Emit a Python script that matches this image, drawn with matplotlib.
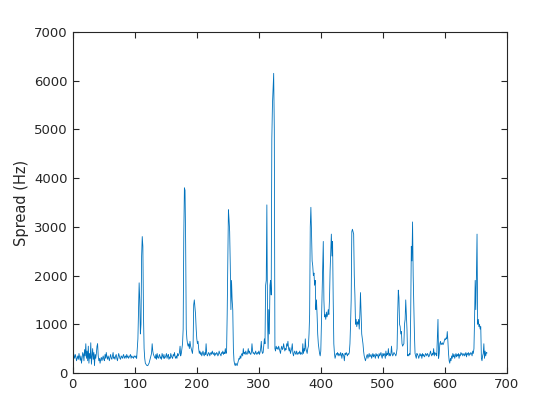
import matplotlib
matplotlib.use("Agg")
import matplotlib.pyplot as plt
import numpy as np

spread_hz = [
    420, 350, 300, 380, 330, 250, 300, 350, 280, 400,
    320, 260, 350, 200, 300, 420, 380, 250, 480, 350,
    600, 300, 450, 250, 550, 200, 400, 300, 620, 180,
    350, 500, 280, 420, 150, 380, 300, 400, 550, 600,
    350, 250, 300, 200, 280, 320, 250, 300, 350, 280,
    250, 380, 300, 420, 330, 280, 350, 300, 250, 330,
    380, 300, 280, 350, 420, 300, 330, 280, 350, 380,
    300, 250, 330, 400, 350, 300, 280, 350, 330, 300,
    350, 380, 300, 330, 350, 300, 380, 320, 350, 300,
    330, 350, 380, 300, 350, 320, 330, 300, 350, 340,
    320, 350, 300, 500, 700, 1300, 1850, 1500, 800, 1000,
    2400, 2800, 2600, 1200, 500, 300, 200, 180, 160, 150,
    150, 180, 200, 250, 300, 350, 400, 600, 450, 380,
    350, 320, 300, 380, 280, 400, 320, 300, 350, 380,
    300, 330, 280, 400, 350, 300, 380, 300, 320, 350,
    400, 300, 350, 380, 280, 330, 300, 400, 350, 320,
    300, 380, 350, 420, 330, 300, 350, 300, 400, 350,
    380, 420, 550, 350, 400, 500, 600, 900, 2800, 3800,
    3750, 2700, 900, 700, 600, 550, 600, 500, 650, 550,
    500, 450, 400, 550, 1400, 1500, 1350, 1200, 900, 700,
    600, 650, 500, 400, 450, 380, 420, 350, 400, 450,
    380, 350, 420, 380, 600, 400, 350, 380, 420, 400,
    350, 400, 420, 380, 450, 400, 380, 420, 350, 400,
    380, 420, 400, 350, 380, 450, 400, 380, 350, 420,
    400, 450, 380, 420, 400, 500, 400, 420, 1200, 2200,
    3350, 3150, 2900, 2200, 1300, 1900, 1500, 1300, 500, 250,
    180, 150, 200, 180, 150, 200, 250, 300, 280, 350,
    300, 380, 400, 350, 500, 400, 420, 380, 450, 400,
    380, 420, 500, 400, 450, 400, 380, 420, 600, 450,
    400, 420, 380, 400, 450, 400, 380, 420, 400, 450,
    380, 420, 500, 650, 450, 400, 420, 550, 700, 600,
    1800, 1900, 3450, 1200, 500, 1300, 800, 1800, 1900, 1600,
    4800, 5500, 5800, 6150, 5000, 500, 450, 550, 500, 520,
    480, 550, 500, 450, 400, 500, 550, 480, 500, 600,
    520, 450, 500, 480, 600, 550, 650, 500, 450, 520,
    400, 450, 500, 600, 400, 350, 420, 450, 400, 380,
    450, 400, 380, 420, 400, 450, 380, 420, 400, 380,
    600, 400, 500, 450, 700, 500, 450, 400, 500, 550,
    800, 1200, 3000, 3400, 2900, 2300, 2200, 2000, 2050, 1800,
    1900, 1300, 1500, 1200, 800, 600, 500, 400, 350, 450,
    1000, 1500, 2100, 2700, 1500, 1150, 1200, 1100, 1250, 1150,
    1200, 1300, 1200, 1500, 2100, 2500, 2850, 2400, 2700, 1500,
    600, 400, 300, 350, 400, 380, 420, 350, 400, 380,
    350, 420, 380, 300, 400, 380, 350, 250, 400, 380,
    420, 380, 350, 400, 380, 420, 600, 1000, 1500, 2900,
    2950, 2900, 2850, 2000, 1600, 1000, 1100, 950, 1050, 1000,
    1100, 900, 1200, 1650, 1200, 800, 700, 600, 450, 350,
    300, 250, 300, 350, 380, 300, 350, 400, 330, 350,
    380, 300, 350, 400, 330, 380, 350, 300, 400, 350,
    380, 350, 300, 400, 350, 380, 420, 350, 300, 400,
    350, 400, 380, 300, 450, 350, 400, 380, 500, 350,
    400, 350, 380, 550, 400, 350, 380, 420, 400, 380,
    350, 400, 500, 1200, 1700, 1550, 1000, 950, 800, 850,
    600, 550, 580, 600, 1000, 1100, 1500, 1200, 900, 350,
    380, 350, 400, 380, 1200, 2600, 2300, 3100, 2000, 1400,
    800, 400, 350, 300, 400, 380, 350, 300, 350, 400,
    350, 380, 300, 400, 350, 380, 330, 350, 400, 380,
    350, 400, 380, 330, 350, 400, 450, 380, 350, 400,
    380, 500, 350, 420, 380, 400, 350, 700, 1100, 300,
    400, 600, 650, 580, 600, 620, 580, 600, 650, 700,
    680, 720, 700, 850, 650, 400, 250, 200, 300, 250,
    350, 300, 400, 330, 380, 300, 350, 400, 330, 380,
    350, 400, 300, 380, 350, 420, 380, 400, 350, 380,
    400, 350, 380, 420, 330, 400, 380, 420, 350, 400,
    380, 420, 400, 350, 450, 400, 500, 1100, 1900, 1300,
    2000, 2850, 1000, 1100, 950, 1000, 900, 950, 300, 250,
    350, 400, 600, 300, 450, 350, 420, 410,
]
sample_index = np.arange(1, len(spread_hz) + 1)

x_ticks = [0, 100, 200, 300, 400, 500, 600, 700]
y_ticks = [0, 1000, 2000, 3000, 4000, 5000, 6000, 7000]

plt.rcParams['font.family'] = ['DejaVu Sans']
fig = plt.figure(figsize=(5.6, 4.2), dpi=100)
ax = fig.add_axes([0.13, 0.112, 0.775, 0.812])
ax.plot(sample_index, spread_hz, color='#0072BD', linewidth=0.6)
ax.set_xlim(0, 700)
ax.set_ylim(0, 7000)
ax.set_xticks(x_ticks)
ax.set_yticks(y_ticks)
dark = '#262626'
for s in ax.spines.values():
    s.set_color(dark)
    s.set_linewidth(0.8)
ax.tick_params(direction='in', top=True, right=True, length=4, width=0.8,
               colors=dark, labelsize=9.5)
ax.set_ylabel('Spread (Hz)', fontsize=10.5, color=dark)
fig.savefig('out.png', dpi=100)
